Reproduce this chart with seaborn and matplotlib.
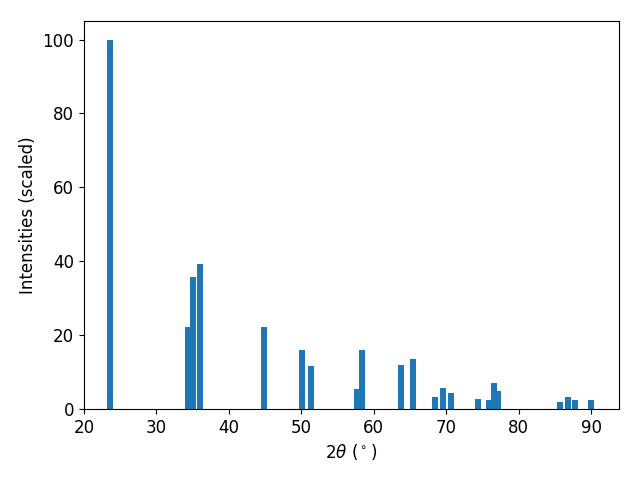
import matplotlib
matplotlib.use("Agg")
import matplotlib.pyplot as plt
import seaborn as sns

two_theta = [23.56, 34.41, 35.10, 36.00, 44.83, 50.07, 51.38, 57.66, 58.34,
             63.72, 65.38, 68.41, 69.52, 70.60, 74.40, 75.90, 76.55, 77.20,
             85.70, 86.76, 87.80, 89.90]
intensity = [100.0, 22.2, 35.8, 39.3, 22.2, 16.0, 11.7, 5.4, 16.0,
             11.9, 13.5, 3.25, 5.7, 4.3, 2.7, 2.5, 7.0, 4.9,
             1.9, 3.25, 2.5, 2.5]

plt.rcdefaults()
plt.rcParams["font.family"] = ["DejaVu Sans"]
plt.rcParams["font.size"] = 12

fig, ax = plt.subplots(figsize=(6.4, 4.8), dpi=100)
ax.bar(two_theta, intensity, width=0.8, color=sns.color_palette("tab10")[0],
       linewidth=0)
ax.set_xlim(20, 93.8)
ax.set_ylim(0, 105)
ax.set_xlabel(r"2$\theta$ ($^\circ$)")
ax.set_ylabel("Intensities (scaled)")
ax.tick_params(axis="both", labelsize=12)
fig.subplots_adjust(left=0.131, right=0.967, top=0.956, bottom=0.148)
fig.savefig("out.png", dpi=100)
